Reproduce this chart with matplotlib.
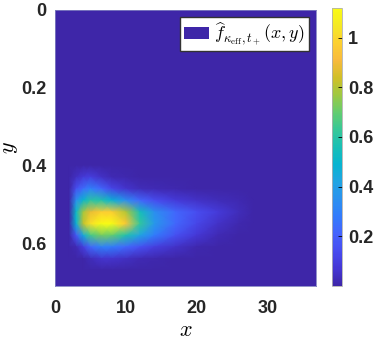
import matplotlib
matplotlib.use("Agg")
import matplotlib.pyplot as plt
import numpy as np
from matplotlib.colors import LinearSegmentedColormap
from matplotlib.patches import Patch

# grid nodes (x, y) and density values
x_nodes = [0, 2, 3, 4, 5, 6.5, 8, 10, 12, 14, 17, 20, 23, 26, 28, 36.8]
y_nodes = [0, 0.40, 0.43, 0.46, 0.49, 0.52, 0.55, 0.58, 0.61, 0.64, 0.67, 0.71]
density = [
    [0, 0, 0,    0,    0,    0,    0,    0,    0,    0,    0,    0,    0,    0,    0, 0],
    [0, 0, 0,    0,    0,    0,    0,    0,    0,    0,    0,    0,    0,    0,    0, 0],
    [0, 0, 0.04, 0.08, 0.10, 0.05, 0.02, 0.01, 0,    0,    0,    0,    0,    0,    0, 0],
    [0, 0, 0.15, 0.24, 0.30, 0.22, 0.12, 0.06, 0.03, 0.02, 0.01, 0,    0,    0,    0, 0],
    [0, 0, 0.35, 0.50, 0.60, 0.58, 0.48, 0.34, 0.22, 0.14, 0.08, 0.05, 0.03, 0.015, 0, 0],
    [0, 0, 0.52, 0.78, 0.88, 0.97, 0.97, 0.80, 0.55, 0.35, 0.22, 0.14, 0.08, 0.03, 0, 0],
    [0, 0, 0.48, 0.82, 1.02, 1.12, 1.12, 0.95, 0.62, 0.38, 0.22, 0.12, 0.05, 0.01, 0, 0],
    [0, 0, 0.18, 0.45, 0.65, 0.72, 0.70, 0.58, 0.42, 0.28, 0.15, 0.07, 0.02, 0,    0, 0],
    [0, 0, 0.02, 0.10, 0.22, 0.30, 0.28, 0.22, 0.15, 0.10, 0.05, 0.01, 0,    0,    0, 0],
    [0, 0, 0,    0,    0.03, 0.06, 0.06, 0.04, 0.02, 0.01, 0,    0,    0,    0,    0, 0],
    [0, 0, 0,    0,    0,    0,    0,    0,    0,    0,    0,    0,    0,    0,    0, 0],
    [0, 0, 0,    0,    0,    0,    0,    0,    0,    0,    0,    0,    0,    0,    0, 0],
]
cbar_ticks = [0.2, 0.4, 0.6, 0.8, 1]
x_ticks = [0, 10, 20, 30]
y_ticks = [0, 0.2, 0.4, 0.6]

# MATLAB parula colormap (subsampled)
parula_colors = [
    [0.2422, 0.1504, 0.6603], [0.2706, 0.2147, 0.8364], [0.2813, 0.3006, 0.9414],
    [0.2699, 0.3892, 0.9906], [0.1963, 0.4847, 0.9892], [0.1687, 0.5703, 0.9359],
    [0.1248, 0.6459, 0.8883], [0.0297, 0.7082, 0.8163], [0.0964, 0.7500, 0.7120],
    [0.2161, 0.7843, 0.5923], [0.3909, 0.8029, 0.4354], [0.6174, 0.7876, 0.2612],
    [0.8203, 0.7498, 0.1535], [0.9728, 0.7298, 0.2394], [0.9892, 0.8136, 0.1885],
    [0.9597, 0.9135, 0.1423], [0.9769, 0.9839, 0.0805],
]
parula = LinearSegmentedColormap.from_list("parula", parula_colors)

plt.rcParams['font.family'] = ['Liberation Sans', 'DejaVu Sans']
plt.rcParams['mathtext.fontset'] = 'cm'

fig = plt.figure(figsize=(3.74, 3.40), dpi=100)
ax = fig.add_axes([0.147, 0.159, 0.698, 0.812])
cax = fig.add_axes([0.888, 0.159, 0.027, 0.818])

X, Y = np.meshgrid(x_nodes, y_nodes)
mesh = ax.pcolormesh(X, Y, np.array(density), cmap=parula, shading='gouraud',
                     vmin=0, vmax=1.12)
ax.set_xlim(0, 36.8)
ax.set_ylim(0.71, 0)
ax.set_xticks(x_ticks)
ax.set_xticklabels(['0', '10', '20', '30'])
ax.set_yticks(y_ticks)
ax.set_yticklabels(['0', '0.2', '0.4', '0.6'])
ax.tick_params(length=0, labelsize=13)
ax.tick_params(axis='x', pad=10)
ax.tick_params(axis='y', pad=6)
for lab in ax.get_xticklabels() + ax.get_yticklabels():
    lab.set_fontweight('bold')
    lab.set_color('#262626')
for sp in ax.spines.values():
    sp.set_color('#8080c0')
    sp.set_linewidth(0.6)
ax.set_xlabel('$x$', fontsize=16, labelpad=2)
ax.set_ylabel('$y$', fontsize=16, labelpad=1)

leg_label = r'$\widehat{f}_{\kappa_{\rm eff},t_+}(x,y)$'
ax.legend([Patch(facecolor=parula_colors[0], edgecolor='none')], [leg_label],
          loc='upper right', fontsize=13, frameon=True, fancybox=False,
          framealpha=1, edgecolor='#333333', borderpad=0.2, handlelength=1.4,
          handletextpad=0.3, borderaxespad=0.4)

cb = fig.colorbar(mesh, cax=cax, ticks=cbar_ticks)
cb.ax.set_yticklabels(['0.2', '0.4', '0.6', '0.8', '1'])
cb.ax.tick_params(direction='in', length=3, width=0.6, labelsize=13, pad=4)
for lab in cb.ax.get_yticklabels():
    lab.set_fontweight('bold')
    lab.set_color('#262626')
cb.outline.set_edgecolor('#b0b0b0')
cb.outline.set_linewidth(0.6)

fig.savefig('out.png', dpi=100)
